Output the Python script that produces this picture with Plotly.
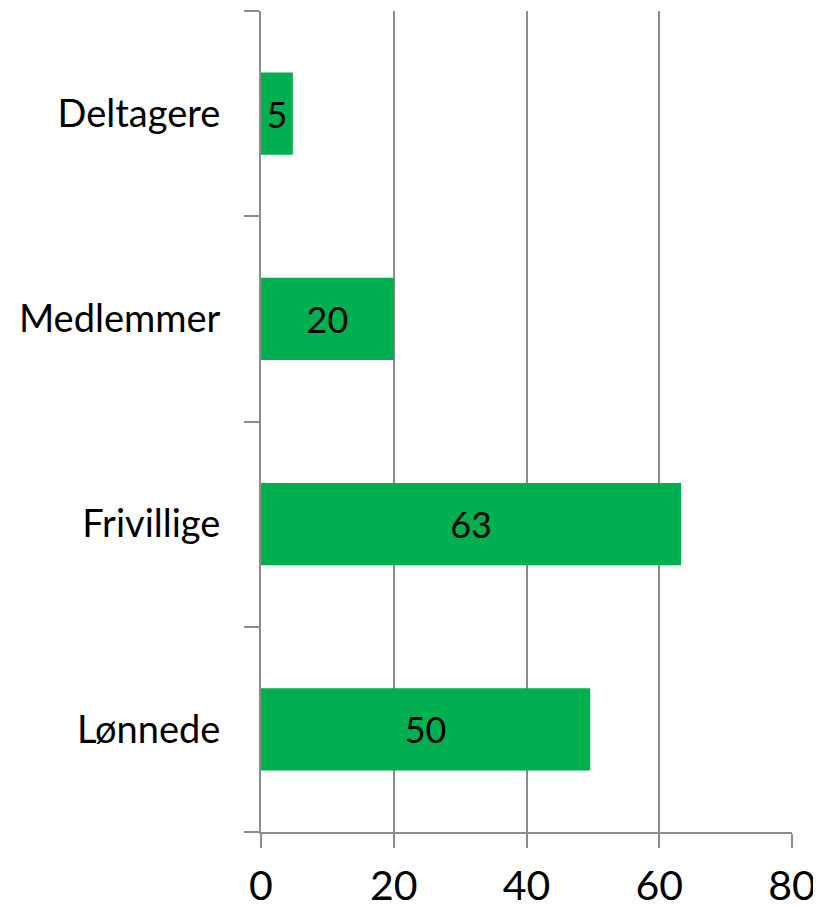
import plotly.graph_objects as go

categories = ["Lønnede", "Frivillige", "Medlemmer", "Deltagere"]
values = [49.6, 63.3, 20.0, 4.8]
x_ticks = [0, 20, 40, 60, 80]

GRAY = "#8c8c8c"
GREEN = "#00B050"
FONT = "Lato, Open Sans, sans-serif"

fig = go.Figure(
    go.Bar(
        x=values,
        y=categories,
        orientation="h",
        marker=dict(color=GREEN, line=dict(width=0)),
        text=[f"{v:.0f}" for v in values],
        textposition="inside",
        insidetextanchor="middle",
        textangle=0,
        textfont=dict(family=FONT, size=36, color="black"),
        cliponaxis=False,
    )
)

# page body has an 8px default margin, so the figure is sized to fit the window
fig.update_layout(
    width=813,
    height=901,
    margin=dict(l=253, r=29, t=3, b=77, autoexpand=False),
    paper_bgcolor="white",
    plot_bgcolor="white",
    bargap=0.6,
    showlegend=False,
)

fig.update_xaxes(
    range=[0, 80],
    tickvals=x_ticks,
    ticktext=[str(t) for t in x_ticks],
    showgrid=True,
    gridcolor=GRAY,
    gridwidth=2,
    showline=True,
    linecolor=GRAY,
    linewidth=2,
    ticks="outside",
    ticklen=14,
    tickwidth=2,
    tickcolor=GRAY,
    tickfont=dict(family=FONT, size=41, color="black"),
    ticklabelstandoff=3,
    zeroline=False,
    automargin=False,
    fixedrange=True,
)

fig.update_yaxes(
    type="category",
    categoryorder="array",
    categoryarray=categories,
    range=[-0.5, 3.5],
    showgrid=False,
    showline=True,
    linecolor=GRAY,
    linewidth=2,
    ticks="outside",
    tickson="boundaries",
    ticklen=15,
    tickwidth=2,
    tickcolor=GRAY,
    tickfont=dict(family=FONT, size=38, color="black"),
    ticklabelstandoff=31,
    zeroline=False,
    automargin=False,
    fixedrange=True,
)

fig.write_html("out.html")
